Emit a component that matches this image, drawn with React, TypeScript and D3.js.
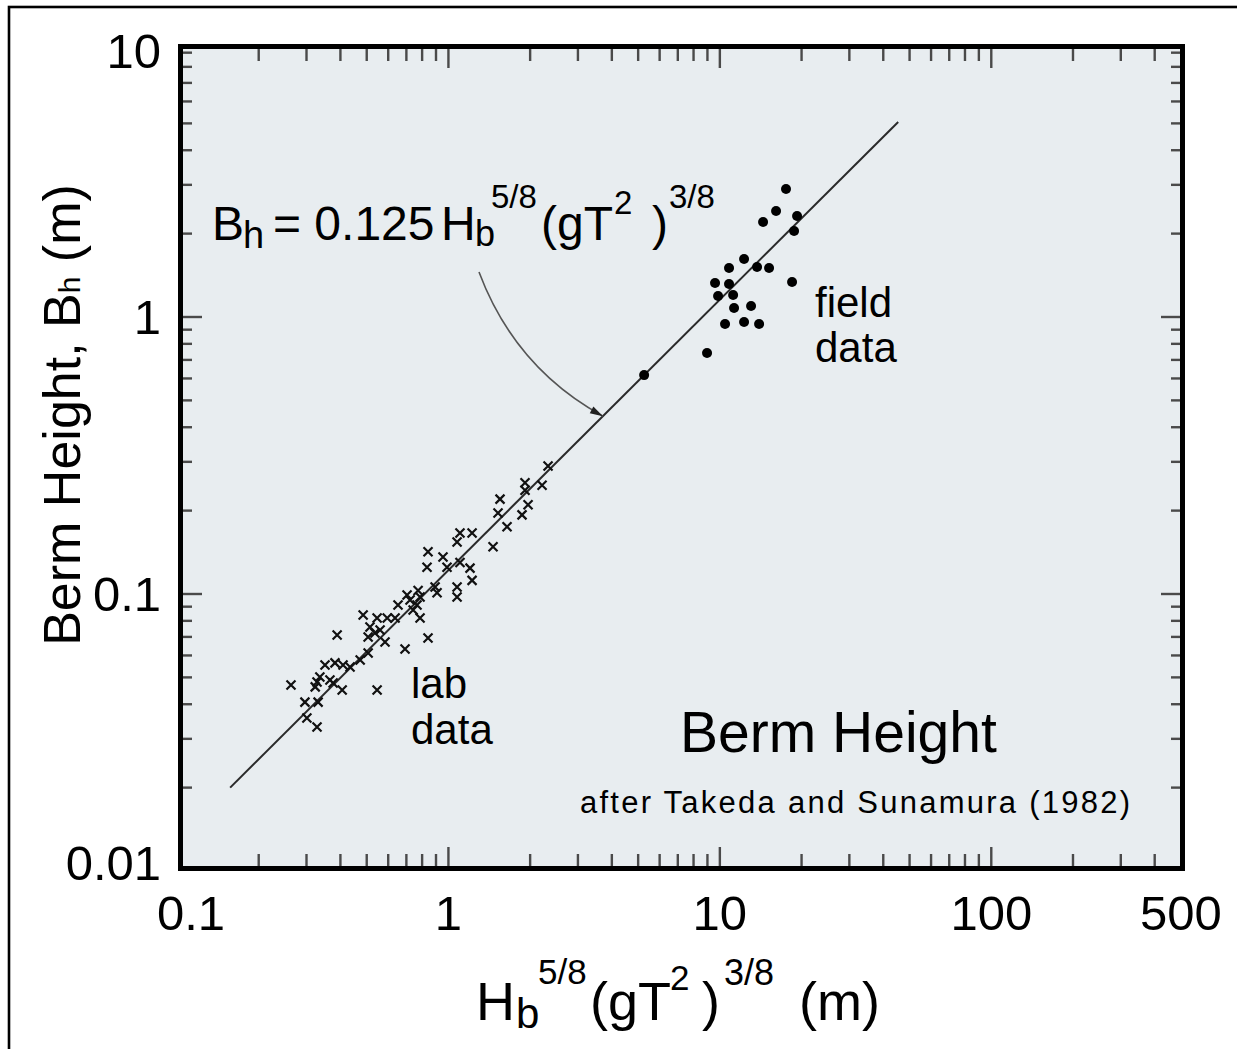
import React from "react";
import * as d3 from "d3";

// ---- data ----
const xTickValues = [0.1, 1, 10, 100, 500];
const xTickLabels = ["0.1", "1", "10", "100", "500"];
const yTickValues = [0.01, 0.1, 1, 10];
const yTickLabels = ["0.01", "0.1", "1", "10"];

// laboratory data (crosses)
const labX = [
  2.328, 2.213, 1.915, 1.915, 1.549, 1.965, 1.523, 1.867, 1.644, 1.46,
  1.103, 1.222, 1.076, 0.841, 0.834, 0.955, 0.988, 1.103, 1.201, 1.222,
  1.076, 1.076, 0.893, 0.908, 0.773, 0.786, 0.722, 0.766, 0.741, 0.704,
  0.652, 0.786, 0.841, 0.692, 0.485, 0.546, 0.595, 0.636, 0.514, 0.56,
  0.536, 0.506, 0.584, 0.389, 0.506, 0.351, 0.382, 0.409, 0.434, 0.473,
  0.336, 0.328, 0.323, 0.366, 0.376, 0.406, 0.263, 0.296, 0.331, 0.301,
  0.328, 0.546,
];
const labY = [
  0.29, 0.247, 0.252, 0.237, 0.22, 0.21, 0.196, 0.193, 0.175, 0.148,
  0.166, 0.166, 0.154, 0.142, 0.125, 0.136, 0.125, 0.13, 0.124, 0.112,
  0.106, 0.0975, 0.106, 0.101, 0.103, 0.0975, 0.0951, 0.0913, 0.0876, 0.0992,
  0.0913, 0.0819, 0.0694, 0.0633, 0.084, 0.0819, 0.0819, 0.0819, 0.076, 0.0741,
  0.0723, 0.07, 0.0671, 0.0711, 0.0612, 0.0554, 0.0564, 0.0554, 0.0545, 0.0578,
  0.0502, 0.0481, 0.0462, 0.0489, 0.0477, 0.045, 0.0469, 0.0407, 0.0407, 0.0357,
  0.0331, 0.045,
];

// field data (dots)
const fieldX = [
  17.53, 16.11, 19.25, 14.43, 18.77, 12.28, 10.81, 13.71, 15.18, 9.6,
  10.81, 18.45, 9.85, 11.19, 11.28, 13.03, 10.45, 12.28, 13.95, 8.97, 5.26,
];
const fieldY = [
  2.898, 2.414, 2.316, 2.203, 2.044, 1.62, 1.503, 1.515, 1.503, 1.327,
  1.316, 1.338, 1.191, 1.201, 1.078, 1.096, 0.943, 0.959, 0.943, 0.741, 0.617,
];

// fitted line end points, Bh = 0.125 Hb^5/8 (gT^2)^3/8
const fitX = [0.157, 45.4];
const fitY = [0.02, 5.06];
const arrowTargetX = 3.71;

const FONT = "'Liberation Sans', Arial, Helvetica, sans-serif";

export default function App() {
  const W = 1237;
  const H = 1049;
  const fr = { l: 180.5, r: 1182.5, t: 46.5, b: 868.5 };
  const inL = fr.l + 2.5, inR = fr.r - 2.5, inT = fr.t + 2.5, inB = fr.b - 2.5;

  const xs = d3.scaleLog().domain([0.1, 500]).range([177, 1181]);
  const ys = d3.scaleLog().domain([0.01, 10]).range([871, 40]);

  const isMajor = (v: number) => Math.abs(Math.log10(v) - Math.round(Math.log10(v))) < 1e-9;

  const xTicks = xs.ticks().filter((v) => xs(v) > inL + 1 && xs(v) < inR - 1);
  const yTicks = ys.ticks().filter((v) => ys(v) > inT + 1 && ys(v) < inB - 1);

  const line = d3.line<[number, number]>().x((d) => xs(d[0])).y((d) => ys(d[1]));
  const fitPts: [number, number][] = fitX.map((x, i) => [x, fitY[i]]);

  // point on the fit line where the arrow lands
  const lx0 = Math.log10(fitX[0]), lx1 = Math.log10(fitX[1]);
  const ly0 = Math.log10(fitY[0]), ly1 = Math.log10(fitY[1]);
  const t = (Math.log10(arrowTargetX) - lx0) / (lx1 - lx0);
  const arrowTargetY = Math.pow(10, ly0 + t * (ly1 - ly0));
  const P2 = [xs(arrowTargetX), ys(arrowTargetY)];
  const P0 = [479, 272];
  const C = [515, 368];
  const tx = P2[0] - C[0], ty = P2[1] - C[1];
  const tl = Math.hypot(tx, ty);
  const ux = tx / tl, uy = ty / tl;
  const ah = 13, aw = 3.8;
  const arrowHead = `M${P2[0]},${P2[1]} L${P2[0] - ah * ux - aw * uy},${P2[1] - ah * uy + aw * ux} L${P2[0] - ah * ux + aw * uy},${P2[1] - ah * uy - aw * ux} Z`;

  const cross = (cx: number, cy: number, s: number) =>
    `M${cx - s},${cy - s}L${cx + s},${cy + s}M${cx - s},${cy + s}L${cx + s},${cy - s}`;

  return (
    <svg
      width={W}
      height={H}
      style={{ position: "absolute", left: 0, top: 0, display: "block", background: "#fff" }}
      fontFamily={FONT}
    >
      {/* outer border */}
      <rect x={9} y={7} width={W + 20} height={H + 20} fill="none" stroke="#000" strokeWidth={2.6} />

      {/* plot background */}
      <rect x={fr.l} y={fr.t} width={fr.r - fr.l} height={fr.b - fr.t} fill="#e8edf0" />

      {/* ticks */}
      <g stroke="#4a4a4a" strokeWidth={2.4}>
        {xTicks.map((v, i) => {
          const x = xs(v);
          const len = isMajor(v) ? 19 : 12;
          return (
            <g key={"xt" + i}>
              <line x1={x} x2={x} y1={inB} y2={inB - len} />
              <line x1={x} x2={x} y1={inT} y2={inT + len} />
            </g>
          );
        })}
        {yTicks.map((v, i) => {
          const y = ys(v);
          const len = isMajor(v) ? 19 : 9;
          return (
            <g key={"yt" + i}>
              <line x1={inL} x2={inL + len} y1={y} y2={y} />
              <line x1={inR} x2={inR - len} y1={y} y2={y} />
            </g>
          );
        })}
      </g>

      {/* fitted line */}
      <path d={line(fitPts) || ""} fill="none" stroke="#2a2a2a" strokeWidth={2} />

      {/* arrow */}
      <path
        d={`M${P0[0]},${P0[1]} Q${C[0]},${C[1]} ${P2[0]},${P2[1]}`}
        fill="none"
        stroke="#555"
        strokeWidth={1.6}
      />
      <path d={arrowHead} fill="#222" />

      {/* lab data crosses */}
      <g stroke="#111" strokeWidth={2.2} fill="none">
        {labX.map((x, i) => (
          <path key={"l" + i} d={cross(xs(x), ys(labY[i]), 4.5)} />
        ))}
      </g>

      {/* field data dots */}
      <g fill="#000">
        {fieldX.map((x, i) => (
          <circle key={"f" + i} cx={xs(x)} cy={ys(fieldY[i])} r={5} />
        ))}
      </g>

      {/* frame */}
      <rect
        x={fr.l}
        y={fr.t}
        width={fr.r - fr.l}
        height={fr.b - fr.t}
        fill="none"
        stroke="#000"
        strokeWidth={5}
      />

      {/* x tick labels */}
      <g fontSize={49} fill="#000" textAnchor="middle">
        {xTickValues.map((v, i) => (
          <text key={"xl" + i} x={Math.max(xs(v), 191)} y={930}>
            {xTickLabels[i]}
          </text>
        ))}
      </g>

      {/* y tick labels */}
      <g fontSize={49} fill="#000" textAnchor="end">
        {yTickValues.map((v, i) => (
          <text key={"yl" + i} x={161} y={Math.min(880, Math.max(68, ys(v) + 17))}>
            {yTickLabels[i]}
          </text>
        ))}
      </g>

      {/* x axis title */}
      <text fill="#000" fontSize={54}>
        <tspan x={476} y={1020}>H</tspan>
        <tspan x={516} y={1028} fontSize={42}>b</tspan>
        <tspan x={538} y={984} fontSize={35}>5/8</tspan>
        <tspan x={590} y={1020}>(gT</tspan>
        <tspan x={670} y={990} fontSize={35}>2</tspan>
        <tspan x={702} y={1020}>)</tspan>
        <tspan x={724} y={985} fontSize={36}>3/8</tspan>
        <tspan x={799} y={1020}>(m)</tspan>
      </text>

      {/* y axis title */}
      <text
        fill="#000"
        fontSize={52}
        textAnchor="middle"
        transform="translate(80,415) rotate(-90)"
      >
        Berm Height, B<tspan fontSize={30}>h</tspan> (m)
      </text>

      {/* formula */}
      <text fill="#000" fontSize={48}>
        <tspan x={212} y={240}>B</tspan>
        <tspan x={243} y={248} fontSize={38}>h</tspan>
        <tspan x={273} y={240}>= 0.125</tspan>
        <tspan x={441} y={240}>H</tspan>
        <tspan x={475} y={246} fontSize={36}>b</tspan>
        <tspan x={491} y={208} fontSize={33}>5/8</tspan>
        <tspan x={541} y={240}>(gT</tspan>
        <tspan x={614} y={214} fontSize={33}>2</tspan>
        <tspan x={652} y={240}>)</tspan>
        <tspan x={669} y={208} fontSize={33}>3/8</tspan>
      </text>

      {/* annotations */}
      <g fill="#000" fontSize={42}>
        <text x={815} y={317}>field</text>
        <text x={815} y={362}>data</text>
        <text x={411} y={698}>lab</text>
        <text x={411} y={744}>data</text>
      </g>
      <text x={680} y={752} fontSize={57} fill="#000">
        Berm Height
      </text>
      <text x={580} y={813} fontSize={31} fill="#000" textLength={550} lengthAdjust="spacing">
        after Takeda and Sunamura (1982)
      </text>
    </svg>
  );
}
